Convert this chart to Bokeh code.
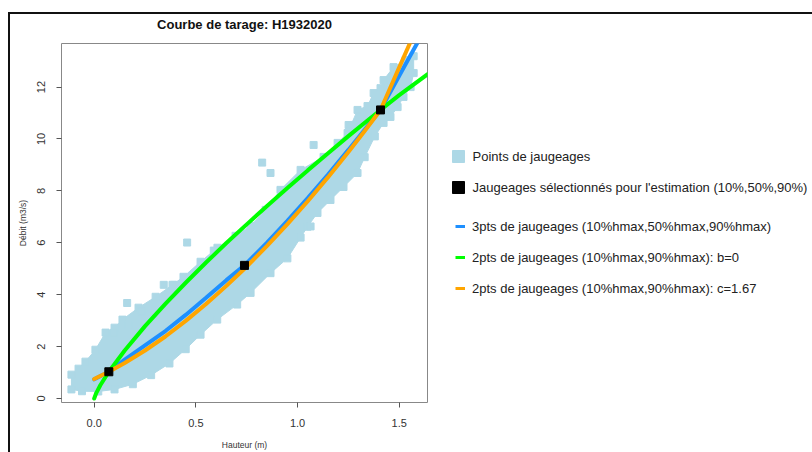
from bokeh.plotting import figure
from bokeh.layouts import row
from bokeh.models import (Range1d, FixedTicker, PrintfTickFormatter, Legend, LegendItem,
                          InlineStyleSheet)
from bokeh.embed import file_html
from bokeh.resources import INLINE

# ---- data ----
titre = "Courbe de tarage: H1932020"
x_ticks = [0.0, 0.5, 1.0, 1.5]
y_ticks = [0, 2, 4, 6, 8, 10, 12]

# envelope of the cloud of gaugings (upper edge, left -> right)
h_env_sup = [-0.112, -0.077, -0.043, 0.006, 0.056, 0.100, 0.139, 0.218, 0.302, 0.385, 0.439, 0.523,
             0.606, 0.695, 0.769, 0.843, 0.916, 1.015, 1.128, 1.197, 1.246, 1.295, 1.344, 1.374,
             1.408, 1.423, 1.472, 1.531, 1.571]
q_env_sup = [0.92, 1.15, 1.42, 1.88, 2.54, 2.73, 3.04, 3.50, 3.92, 4.38, 4.69, 5.27,
             5.81, 6.27, 6.65, 7.27, 8.04, 8.81, 9.31, 9.85, 10.23, 11.12, 11.27, 11.77,
             11.96, 12.27, 12.77, 13.04, 13.19]
# lower edge, right -> left
h_env_inf = [1.571, 1.556, 1.521, 1.492, 1.457, 1.423, 1.38, 1.33, 1.295, 1.226, 1.162, 1.098,
             1.049, 1.015, 0.95, 0.867, 0.769, 0.703, 0.605, 0.523, 0.45, 0.37, 0.28, 0.19,
             0.10, 0.02, -0.06, -0.112]
q_env_inf = [12.54, 12.0, 11.62, 11.23, 10.85, 10.62, 10.1, 9.3, 8.69, 8.15, 7.65, 7.15,
             6.62, 6.2, 5.4, 4.83, 4.07, 3.62, 3.04, 2.46, 1.9, 1.35, 0.9, 0.55,
             0.35, 0.27, 0.28, 0.35]
# isolated gaugings
h_isoles = [0.095, 0.169, 0.162, 0.233, 0.342, 0.392, 0.457, 0.588, 0.826, 0.867, 1.064, 1.079, 1.251]
q_isoles = [2.53, 2.85, 3.68, 3.36, 4.38, 4.38, 6.01, 5.70, 9.09, 8.69, 6.63, 9.77, 10.54]

# selected gaugings (10%, 50%, 90%)
h_sel = [0.072, 0.739, 1.408]
q_sel = [1.03, 5.13, 11.12]

# 3 points curve
h_3pts = [0.0, 0.072, 0.15, 0.25, 0.35, 0.45, 0.55, 0.65, 0.739, 0.85, 0.95, 1.05, 1.15, 1.25,
          1.33, 1.408, 1.45, 1.50, 1.55, 1.589]
q_3pts = [0.74, 1.03, 1.50, 2.05, 2.60, 3.22, 3.88, 4.56, 5.13, 6.01, 6.85, 7.72, 8.63, 9.58,
          10.36, 11.12, 11.72, 12.44, 13.15, 13.7]
# 2 points, b=0
h_b0 = [0.0, 0.01, 0.03, 0.072, 0.15, 0.25, 0.35, 0.45, 0.55, 0.65, 0.75, 0.85, 0.95, 1.05,
        1.15, 1.25, 1.35, 1.408, 1.50, 1.64]
q_b0 = [0.0, 0.21, 0.51, 1.03, 1.85, 2.79, 3.65, 4.46, 5.24, 5.99, 6.71, 7.42, 8.11, 8.79,
        9.45, 10.11, 10.75, 11.12, 11.69, 12.5]
# 2 points, c=1.67
h_c167 = [0.0, 0.072, 0.15, 0.25, 0.35, 0.45, 0.55, 0.65, 0.739, 0.85, 0.95, 1.05, 1.15, 1.25,
          1.33, 1.408, 1.45, 1.50, 1.553]
q_c167 = [0.75, 1.03, 1.37, 1.85, 2.39, 2.99, 3.64, 4.34, 5.0, 5.88, 6.72, 7.60, 8.53, 9.50,
          10.31, 11.12, 11.87, 12.76, 13.7]

lab_pts = "Points de jaugeages"
lab_sel = "Jaugeages sélectionnés pour l'estimation (10%,50%,90%)"
lab_3 = "3pts de jaugeages (10%hmax,50%hmax,90%hmax)"
lab_b0 = "2pts de jaugeages (10%hmax,90%hmax): b=0"
lab_c = "2pts de jaugeages (10%hmax,90%hmax): c=1.67"

FONT = "Liberation Sans"
LIGHT = "#ADD8E6"
BLUE = "#1E90FF"
GREEN = "#00FF00"
ORANGE = "#FFA500"

p = figure(width=440, height=452, output_backend="svg", toolbar_location=None,
           x_range=Range1d(-0.1608, 1.639), y_range=Range1d(-0.154, 13.68),
           min_border_left=61, min_border_right=13, min_border_top=43, min_border_bottom=49,
           title=titre)
p.title.align = "center"
p.title.text_font = FONT
p.title.text_font_size = "13px"
p.title.text_font_style = "bold"
p.title.text_color = "#111111"
p.title.standoff = 24

p.xgrid.visible = False
p.ygrid.visible = False
p.outline_line_color = "#888888"
p.outline_line_width = 1
p.background_fill_color = "white"
p.border_fill_color = "white"

for ax in (p.xaxis[0], p.yaxis[0]):
    ax.axis_line_color = None
    ax.major_tick_line_color = "#555555"
    ax.major_tick_out = 5
    ax.major_tick_in = 0
    ax.minor_tick_line_color = None
    ax.major_label_text_font = FONT
    ax.major_label_text_font_size = "11px"
    ax.major_label_text_color = "#333333"
    ax.axis_label_text_font = FONT
    ax.axis_label_text_font_size = "8.5px"
    ax.axis_label_text_font_style = "normal"
    ax.axis_label_text_color = "#333333"

p.xaxis.ticker = FixedTicker(ticks=x_ticks)
p.xaxis.formatter = PrintfTickFormatter(format="%.1f")
p.xaxis.axis_label = "Hauteur (m)"
p.xaxis.major_label_standoff = 11
p.xaxis.axis_label_standoff = 10
p.yaxis.ticker = FixedTicker(ticks=y_ticks)
p.yaxis.axis_label = "Débit (m3/s)"
p.yaxis.major_label_orientation = "vertical"
p.yaxis.major_label_standoff = 11
p.yaxis.axis_label_standoff = 7

# cloud of gaugings
p.patch(x=h_env_sup + h_env_inf, y=q_env_sup + q_env_inf,
        fill_color=LIGHT, line_color=LIGHT, line_width=1)
p.scatter(x=h_env_sup + h_env_inf + h_isoles, y=q_env_sup + q_env_inf + q_isoles,
          marker="square", size=7, color=LIGHT)

p.line(h_3pts, q_3pts, line_color=BLUE, line_width=4, line_cap="round")
p.line(h_b0, q_b0, line_color=GREEN, line_width=4, line_cap="round")
p.line(h_c167, q_c167, line_color=ORANGE, line_width=4, line_cap="round")
p.scatter(h_sel, q_sel, marker="square", size=8, color="black")

# ---- legend panel (its own renderers lie outside its visible range) ----
lg = figure(width=372, height=452, output_backend="svg", toolbar_location=None,
            x_range=Range1d(100, 101), y_range=Range1d(100, 101),
            x_axis_location=None, y_axis_location=None,
            min_border_left=0, min_border_right=0, min_border_top=0, min_border_bottom=0)
lg.xgrid.visible = False
lg.ygrid.visible = False
lg.outline_line_color = None
lg.border_fill_color = "white"

k_pts = lg.scatter(h_isoles, q_isoles, marker="square", color=LIGHT)
k_sel = lg.scatter(h_sel, q_sel, marker="square", color="black")
k_3 = lg.line(h_3pts, q_3pts, line_color=BLUE, line_width=3)
k_b0 = lg.line(h_b0, q_b0, line_color=GREEN, line_width=3)
k_c = lg.line(h_c167, q_c167, line_color=ORANGE, line_width=3)

# the legend frame is aligned with the chart frame (page y 43..403)
leg1 = Legend(items=[LegendItem(label=lab_pts, renderers=[k_pts]),
                     LegendItem(label=lab_sel, renderers=[k_sel])],
              location=(2.5, 200), orientation="vertical")
leg1.glyph_width = 30
leg1.glyph_height = 30
leg1.spacing = 1
leg1.label_standoff = 0

leg2 = Legend(items=[LegendItem(label=lab_3, renderers=[k_3]),
                     LegendItem(label=lab_b0, renderers=[k_b0]),
                     LegendItem(label=lab_c, renderers=[k_c])],
              location=(15, 104), orientation="vertical")
leg2.glyph_width = 10
leg2.glyph_height = 20
leg2.label_height = 20
leg2.spacing = 11
leg2.label_standoff = 7

for L in (leg1, leg2):
    L.padding = 0
    L.margin = 0
    L.border_line_color = None
    L.background_fill_alpha = 0
    L.label_text_font = FONT
    L.label_text_font_size = "13px"
    L.label_text_color = "#222222"
    lg.add_layout(L, "center")

frame_css = InlineStyleSheet(css="""
:host { position: relative; }
:host::after { content: ''; position: absolute; left: 8px; top: 12px; right: 0; bottom: 0;
  border-left: 2px solid #111; border-top: 2px solid #111; pointer-events: none; z-index: 10; }
""")
layout = row(p, lg, spacing=0, stylesheets=[frame_css])

open("out.html", "w").write(file_html(layout, INLINE))
